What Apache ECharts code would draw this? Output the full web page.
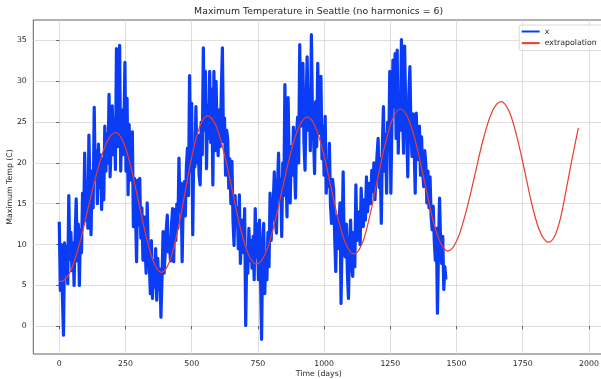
<!DOCTYPE html>
<html><head><meta charset="utf-8">
<script src="https://cdn.jsdelivr.net/npm/echarts@6/dist/echarts.min.js"></script>
<style>html,body{margin:0;padding:0;background:#fff}#c{width:601px;height:379px}</style>
</head><body><div id="c"></div>
<script>
const titleText = 'Maximum Temperature in Seattle (no harmonics = 6)';
const xAxisName = 'Time (days)';
const yAxisName = 'Maximum Temp (C)';
const seriesNames = ['x', 'extrapolation'];
const xTicks = [0, 250, 500, 750, 1000, 1250, 1500, 1750, 2000];
const yTicks = [0, 5, 10, 15, 20, 25, 30, 35];

// observed series, one value every 4 days starting at day 0
const blueStep = 4;
const blueTemps = [
  12.8, 4.4, 10.0, 3.5, -1.1, 10.2, 6.5, 9.8, 5.2, 16.0, 8.2, 11.5, 6.8, 10.2, 5.0, 11.0, 15.6, 8.0, 12.5, 5.0, 11.8, 9.0, 16.3, 12.5, 21.2, 13.0,
  17.5, 12.0, 23.4, 16.5, 11.2, 19.0, 14.5, 26.8, 18.0, 21.5, 15.0, 22.3, 17.0, 21.0, 14.3, 20.5, 15.5, 24.5, 19.0, 23.6, 20.0, 28.4, 18.3, 22.5, 27.0,
  21.0, 25.5, 19.2, 34.0, 22.0, 26.0, 34.4, 19.0, 26.5, 21.0, 24.0, 32.3, 19.0, 27.9, 16.1, 24.7, 17.9, 21.5, 23.8, 12.2, 18.1, 14.0, 7.9, 17.9, 12.4,
  18.1, 10.8, 14.5, 8.1, 13.4, 10.0, 6.5, 15.1, 9.5, 7.7, 4.0, 10.5, 3.4, 8.0, 4.8, 9.5, 3.2, 8.3, 4.5, 7.0, 1.1, 6.0, 11.6, 6.5, 9.0,
  11.8, 13.6, 9.1, 10.6, 8.0, 12.5, 14.4, 7.9, 14.3, 10.5, 15.0, 12.0, 20.6, 14.0, 17.5, 7.9, 15.5, 17.7, 13.5, 19.5, 21.8, 16.0, 30.7, 19.0, 27.3,
  11.2, 22.0, 19.5, 26.9, 20.0, 23.4, 18.5, 17.3, 25.0, 21.0, 34.1, 24.0, 31.2, 19.3, 27.0, 23.0, 31.2, 22.5, 29.0, 17.3, 31.2, 21.5, 30.0, 24.0, 20.9,
  26.5, 22.0, 29.0, 34.1, 22.6, 25.5, 18.5, 24.0, 23.0, 16.9, 20.5, 15.0, 20.2, 13.0, 9.9, 16.0, 12.5, 14.5, 9.5, 16.1, 7.7, 11.2, 13.0, 9.0, 14.4,
  0.1, 9.5, 6.5, 12.0, 8.0, 10.5, 7.1, 11.0, 5.7, 14.4, 8.5, 12.5, 5.7, 13.0, 6.1, -1.6, 10.0, 12.6, 4.0, 9.0, 5.7, 11.5, 7.3, 16.3, 10.5,
  13.4, 15.0, 18.9, 13.0, 11.4, 17.0, 21.2, 15.5, 18.0, 11.0, 20.0, 16.0, 29.6, 19.1, 13.4, 28.0, 20.5, 15.1, 22.0, 18.5, 24.4, 20.0, 15.7, 23.5, 25.6,
  20.0, 34.5, 24.5, 28.0, 32.2, 22.5, 19.1, 27.0, 33.0, 24.0, 28.9, 21.5, 35.7, 26.0, 23.5, 18.7, 27.5, 22.0, 32.2, 25.0, 23.6, 30.6, 20.5, 24.5, 18.5,
  25.7, 16.3, 19.9, 17.1, 22.4, 15.0, 12.6, 18.0, 16.7, 11.0, 6.7, 13.5, 9.5, 12.0, 15.1, 2.8, 11.0, 18.9, 9.0, 8.5, 12.5, 6.5, 3.4, 10.0, 13.0,
  7.5, 6.1, 11.5, 7.3, 17.3, 10.5, 11.8, 14.0, 10.0, 16.9, 12.5, 12.2, 15.5, 13.0, 18.3, 14.0, 13.8, 17.5, 15.0, 19.1, 16.5, 20.0, 15.5, 18.5, 21.0,
  23.0, 17.0, 20.5, 12.6, 22.0, 26.9, 19.0, 23.5, 16.3, 25.0, 21.5, 31.2, 16.3, 24.5, 32.6, 26.9, 33.4, 23.0, 33.8, 21.2, 28.0, 24.0, 35.1, 26.5, 21.2,
  34.3, 27.0, 24.1, 18.3, 28.5, 31.8, 24.0, 20.8, 26.0, 22.0, 16.3, 26.1, 21.0, 20.4, 24.5, 18.5, 23.2, 19.0, 17.1, 21.5, 19.9, 15.1, 19.0, 14.5, 18.3,
  13.5, 11.8, 14.7, 10.5, 8.1, 12.0, 1.6, 9.5, 15.7, 10.0, 7.7, 11.0, 4.5, 7.3, 5.7
];

// fitted / extrapolated curve (read at its turning points and between them)
const redDays = [0, 8, 42, 76, 110, 145, 179, 213, 242, 271, 300, 329, 358, 387, 416, 445, 474, 502, 531, 560,
  591, 622, 653, 683, 714, 745, 777, 809, 841, 873, 905, 937, 966, 996, 1025, 1054, 1084, 1113, 1142, 1171, 1200,
  1230, 1259, 1288, 1318, 1348, 1378, 1407, 1437, 1467, 1500, 1534, 1568, 1601, 1635, 1668, 1698, 1728, 1758, 1787,
  1817, 1847, 1870, 1893, 1914, 1937, 1960];
const redTemps = [5.5, 5.5, 6.7, 10.05, 14.6, 19.15, 22.5, 23.7, 22.55, 19.4, 15.15, 10.9, 7.75, 6.6, 7.9, 11.4, 16.2, 21.0, 24.5, 25.8,
  24.6, 21.25, 16.7, 12.15, 8.8, 7.6, 8.8, 12.1, 16.6, 21.1, 24.4, 25.6, 24.5, 21.4, 17.2, 13.0, 9.95, 8.85, 10.0, 13.3, 17.7,
  22.2, 25.4, 26.6, 25.4, 22.25, 17.9, 13.55, 10.4, 9.2, 10.4, 13.8, 18.35, 22.9, 26.3, 27.5, 26.35, 23.2, 18.9, 14.6,
  11.45, 10.3, 11.0, 13.3, 16.7, 20.6, 24.3];

const FONT = 'DejaVu Sans';
const TXT = '#262626';
const BLUE = '#0a3cf5';
const RED = '#ee3b2b';
const SPINE = '#3a3a3a';
const GRIDC = '#d6d6d6';

const chart = echarts.init(document.getElementById('c'), null, {renderer: 'canvas'});
chart.setOption({
  animation: false,
  backgroundColor: '#ffffff',
  title: {
    text: titleText, left: 318.6, top: 7, textAlign: 'center', padding: 0,
    textStyle: {fontFamily: FONT, fontSize: 9.35, fontWeight: 'normal', color: TXT}
  },
  legend: {
    orient: 'vertical', left: 519.3, top: 25, padding: [2.5, 16, 3.5, 1.4],
    itemWidth: 18, itemHeight: 8, itemGap: 3.6,
    backgroundColor: 'rgba(255,255,255,0.8)', borderColor: '#d0d0d0', borderWidth: 0.8, borderRadius: 2,
    itemStyle: {color: 'rgba(0,0,0,0)', borderWidth: 0, opacity: 0},
    textStyle: {fontFamily: FONT, fontSize: 7.8, color: TXT},
    data: seriesNames
  },
  grid: {left: 33.3, top: 20, width: 571, height: 334, show: true, borderColor: SPINE, borderWidth: 0.8,
    backgroundColor: 'transparent', containLabel: false, outerBoundsMode: 'none'},
  xAxis: {
    type: 'value', min: -98, max: 2058,
    name: xAxisName, nameLocation: 'middle', nameGap: 16, nameMoveOverlap: false,
    nameTextStyle: {fontFamily: FONT, fontSize: 7.8, color: TXT},
    axisLine: {show: false},
    axisTick: {show: true, inside: false, length: 3, customValues: xTicks, lineStyle: {color: SPINE, width: 0.8}},
    axisLabel: {customValues: xTicks, margin: 5.5, fontFamily: FONT, fontSize: 7.8, color: TXT, formatter: v => String(v)},
    splitLine: {show: true, lineStyle: {color: GRIDC, width: 0.8}}
  },
  yAxis: {
    type: 'value', min: -3.4, max: 37.5,
    name: yAxisName, nameLocation: 'middle', nameGap: 19, nameRotate: 90, nameMoveOverlap: false,
    nameTextStyle: {fontFamily: FONT, fontSize: 7.8, color: TXT},
    axisLine: {show: false},
    axisTick: {show: true, inside: false, length: 3, customValues: yTicks, lineStyle: {color: SPINE, width: 0.8}},
    axisLabel: {customValues: yTicks, margin: 6.5, fontFamily: FONT, fontSize: 7.8, color: TXT, formatter: v => String(v)},
    splitLine: {show: true, lineStyle: {color: GRIDC, width: 0.8}}
  },
  series: [
    {
      name: seriesNames[0], type: 'line', symbol: 'none', showSymbol: false, sampling: false,
      data: blueTemps.map((v, i) => [i * blueStep, v]),
      lineStyle: {color: BLUE, width: 3.2, join: 'round'}, itemStyle: {color: BLUE}, z: 2
    },
    {
      name: seriesNames[1], type: 'line', symbol: 'none', showSymbol: false, smooth: 0.35,
      data: redDays.map((d, i) => [d, redTemps[i]]),
      lineStyle: {color: RED, width: 1.2}, itemStyle: {color: RED}, z: 3
    }
  ]
});
</script>
</body></html>
